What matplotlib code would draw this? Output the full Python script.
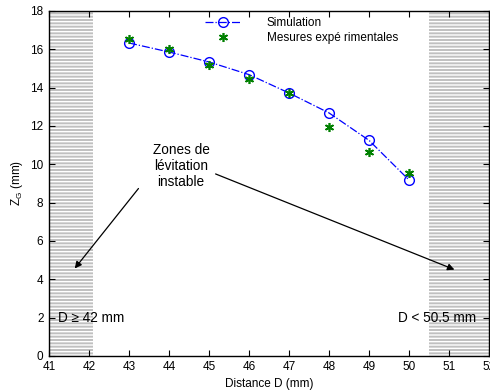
import matplotlib
matplotlib.use("Agg")
import matplotlib.pyplot as plt
import numpy as np

plt.rcParams['font.family'] = ['Liberation Sans', 'DejaVu Sans']
plt.rcParams['hatch.linewidth'] = 1.0

distance = [43, 44, 45, 46, 47, 48, 49, 50]
z_sim = [16.33, 15.86, 15.34, 14.68, 13.72, 12.68, 11.25, 9.18]
z_mes = [16.54, 16.0, 15.2, 14.45, 13.7, 11.95, 10.62, 9.52]
xticks = list(range(41, 53))
yticks = list(range(0, 19, 2))
zone_left = (41, 42.1)
zone_right = (50.5, 52)

fig = plt.figure(figsize=(4.9, 3.92), dpi=100)
ax = fig.add_axes([0.1, 0.092, 0.898, 0.88])

for z in (zone_left, zone_right):
    ax.fill_betweenx([0, 18], z[0], z[1], facecolor='#c0c0c0', edgecolor='white',
                     hatch='-----', linewidth=0, zorder=0)

ax.plot(distance, z_sim, color='blue', linestyle='-.', linewidth=0.9, marker='o',
        markersize=7, markerfacecolor='none', markeredgecolor='blue',
        markeredgewidth=1.0, label='Simulation')
ax.plot(distance, z_mes, color='#008000', linestyle='none', marker=(6, 2, 0),
        markersize=6.5, markeredgewidth=1.2, label='Mesures expé rimentales')

ax.set_xlim(41, 52)
ax.set_ylim(0, 18)
ax.set_xticks(xticks)
ax.set_yticks(yticks)
ax.tick_params(direction='in', top=True, right=True, labelsize=8.5, length=4, width=0.8, pad=4)
for s in ax.spines.values():
    s.set_linewidth(1.0)

ax.set_xlabel('Distance D (mm)', fontsize=8.5, labelpad=3)
ax.set_ylabel('Z$_\\mathregular{G}$ (mm)', fontsize=8.5, labelpad=4)

leg = ax.legend(loc='upper left', bbox_to_anchor=(0.35, 0.99), frameon=False,
                fontsize=8.5, handlelength=3.0, handletextpad=2.2, labelspacing=0.3,
                borderaxespad=0, borderpad=0.2)

ax.text(44.3, 9.9, 'Zones de\nlévitation\ninstable', ha='center', va='center',
        fontsize=9.8, linespacing=1.2)
ax.annotate('', xy=(41.6, 4.45), xytext=(43.28, 8.85),
            arrowprops=dict(arrowstyle='-|>', color='black', lw=0.9, mutation_scale=10))
ax.annotate('', xy=(51.2, 4.45), xytext=(45.1, 9.55),
            arrowprops=dict(arrowstyle='-|>', color='black', lw=0.9, mutation_scale=10))

ax.text(41.22, 1.98, 'D ≥ 42 mm', ha='left', va='center', fontsize=9.8)
ax.text(51.67, 1.98, 'D < 50.5 mm', ha='right', va='center', fontsize=9.8)

fig.savefig('out.png', dpi=100)
